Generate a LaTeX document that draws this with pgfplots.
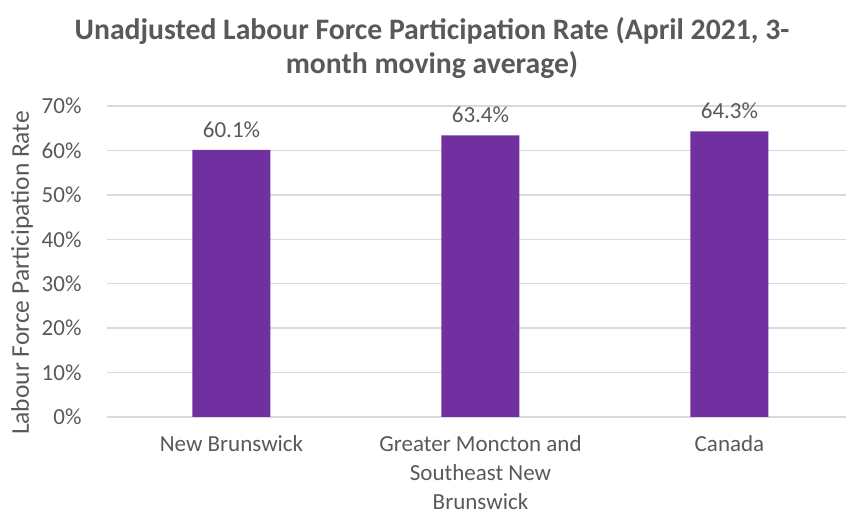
\documentclass[border=0pt]{standalone}
\usepackage{fontspec}
\setmainfont{Carlito}
\usepackage{pgfplots}
\pgfplotsset{compat=1.18}

\definecolor{txtgray}{HTML}{595959}
\definecolor{gridgray}{HTML}{D9D9D9}
\definecolor{barpurple}{HTML}{7030A0}

\begin{document}
\begin{tikzpicture}
\useasboundingbox (0,0) rectangle (846pt,518pt);

% chart title
\node[align=center, font=\fontsize{29.7}{34}\selectfont\bfseries, text=txtgray]
  at (432pt,470pt) {Unadjusted Labour Force Participation Rate (April 2021, 3-\\month moving average)};

% y axis label
\node[rotate=90, font=\fontsize{25.5}{29}\selectfont, text=txtgray]
  at (22pt,245pt) {Labour Force Participation Rate};

\begin{axis}[
    at={(107pt,101pt)}, anchor=south west,
    scale only axis,
    width=739pt, height=311pt,
    xmin=-0.5, xmax=2.468,
    ymin=0, ymax=70,
    ytick={0,10,...,70},
    yticklabel={\pgfmathprintnumber{\tick}\%},
    xtick={0,1,2},
    xticklabels={New Brunswick, {Greater Moncton and\\Southeast New\\Brunswick}, Canada},
    xticklabel style={align=center, font=\fontsize{23}{29}\selectfont, text=txtgray, yshift=-17pt, inner sep=1pt},
    yticklabel style={font=\fontsize{23}{27}\selectfont, text=txtgray, xshift=-22pt},
    /pgf/number format/assume math mode=true,
    axis line style={draw=none},
    major tick length=0pt,
    ymajorgrids,
    grid style={gridgray, line width=1.3pt},
    clip=false,
]
\addplot[ybar, bar width=78pt, fill=barpurple, draw=none,
    nodes near coords={\pgfmathprintnumber[fixed,precision=1,fixed zerofill]{\pgfplotspointmeta}\%},
    nodes near coords style={font=\fontsize{23}{27}\selectfont, text=txtgray, yshift=9pt},
    point meta=y]
  coordinates {(0,60.1) (1,63.4) (2,64.3)};
\end{axis}
\end{tikzpicture}
\end{document}
